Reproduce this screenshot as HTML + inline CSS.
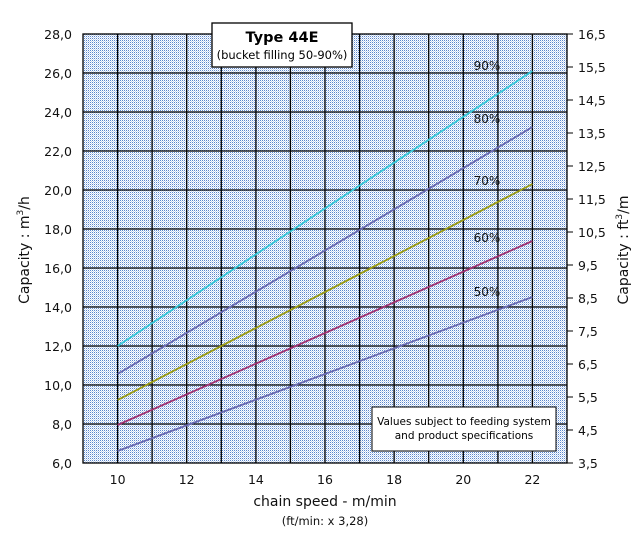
<!DOCTYPE html>
<html><head><meta charset="utf-8"><style>
body{margin:0;background:#fff;}
svg{display:block;font-family:"DejaVu Sans","Liberation Sans",sans-serif;}
</style></head><body>
<svg width="637" height="540" viewBox="0 0 637 540" xmlns="http://www.w3.org/2000/svg">
<defs>
<pattern id="p" width="2" height="2" patternUnits="userSpaceOnUse">
<rect width="2" height="2" fill="#fff"/>
<rect width="1" height="1" fill="#5a86cc"/>
<rect x="1" y="1" width="1" height="1" fill="#c4d6f0"/>
</pattern>
</defs>
<rect x="83" y="34" width="484" height="429" fill="url(#p)"/>
<g stroke="#000" stroke-width="1.3">
<line x1="117.6" y1="34" x2="117.6" y2="463"/><line x1="152.1" y1="34" x2="152.1" y2="463"/>
<line x1="186.7" y1="34" x2="186.7" y2="463"/><line x1="221.3" y1="34" x2="221.3" y2="463"/>
<line x1="255.9" y1="34" x2="255.9" y2="463"/><line x1="290.4" y1="34" x2="290.4" y2="463"/>
<line x1="325" y1="34" x2="325" y2="463"/><line x1="359.6" y1="34" x2="359.6" y2="463"/>
<line x1="394.1" y1="34" x2="394.1" y2="463"/><line x1="428.7" y1="34" x2="428.7" y2="463"/>
<line x1="463.3" y1="34" x2="463.3" y2="463"/><line x1="497.9" y1="34" x2="497.9" y2="463"/>
<line x1="532.4" y1="34" x2="532.4" y2="463"/>
<line x1="83" y1="73" x2="567" y2="73"/><line x1="83" y1="112" x2="567" y2="112"/>
<line x1="83" y1="151" x2="567" y2="151"/><line x1="83" y1="190" x2="567" y2="190"/>
<line x1="83" y1="229" x2="567" y2="229"/><line x1="83" y1="268" x2="567" y2="268"/>
<line x1="83" y1="307" x2="567" y2="307"/><line x1="83" y1="346" x2="567" y2="346"/>
<line x1="83" y1="385" x2="567" y2="385"/><line x1="83" y1="424" x2="567" y2="424"/>
</g>
<g stroke="#000" stroke-width="1">
<line x1="567" y1="34" x2="573" y2="34"/><line x1="567" y1="67" x2="573" y2="67"/><line x1="567" y1="100" x2="573" y2="100"/><line x1="567" y1="133" x2="573" y2="133"/><line x1="567" y1="166" x2="573" y2="166"/><line x1="567" y1="199" x2="573" y2="199"/><line x1="567" y1="232" x2="573" y2="232"/><line x1="567" y1="265" x2="573" y2="265"/><line x1="567" y1="298" x2="573" y2="298"/><line x1="567" y1="331" x2="573" y2="331"/><line x1="567" y1="364" x2="573" y2="364"/><line x1="567" y1="397" x2="573" y2="397"/><line x1="567" y1="430" x2="573" y2="430"/><line x1="567" y1="463" x2="573" y2="463"/>
</g>
<rect x="83" y="34" width="484" height="429" fill="none" stroke="#000" stroke-width="1.3"/>
<g fill="none" stroke-width="1.8">
<polyline points="117.6,346 532.4,71" stroke="#33c8d8"/>
<polyline points="117.6,374 532.4,127" stroke="#6868b0"/>
<polyline points="117.6,400 532.4,184" stroke="#9a9a10"/>
<polyline points="117.6,425 532.4,241" stroke="#a03070"/>
<polyline points="117.6,451 532.4,297" stroke="#6868b0"/>
</g>
<g font-size="12" fill="#111" text-anchor="middle">
<text x="487" y="70">90%</text><text x="487" y="123">80%</text><text x="487" y="185">70%</text><text x="487" y="242">60%</text><text x="487" y="296">50%</text>
</g>
<g font-size="12.5" fill="#111" text-anchor="end">
<text x="72" y="39">28,0</text><text x="72" y="78">26,0</text><text x="72" y="117">24,0</text><text x="72" y="156">22,0</text><text x="72" y="195">20,0</text><text x="72" y="234">18,0</text><text x="72" y="273">16,0</text><text x="72" y="312">14,0</text><text x="72" y="351">12,0</text><text x="72" y="390">10,0</text><text x="72" y="429">8,0</text><text x="72" y="468">6,0</text>
</g>
<g font-size="12.5" fill="#111" text-anchor="start">
<text x="578" y="39">16,5</text><text x="578" y="72">15,5</text><text x="578" y="105">14,5</text><text x="578" y="138">13,5</text><text x="578" y="171">12,5</text><text x="578" y="204">11,5</text><text x="578" y="237">10,5</text><text x="578" y="270">9,5</text><text x="578" y="303">8,5</text><text x="578" y="336">7,5</text><text x="578" y="369">6,5</text><text x="578" y="402">5,5</text><text x="578" y="435">4,5</text><text x="578" y="468">3,5</text>
</g>
<g font-size="12.5" fill="#111" text-anchor="middle">
<text x="117.6" y="484">10</text><text x="186.7" y="484">12</text><text x="255.9" y="484">14</text><text x="325" y="484">16</text><text x="394.1" y="484">18</text><text x="463.3" y="484">20</text><text x="532.4" y="484">22</text>
</g>
<text x="325" y="506" font-size="14" text-anchor="middle" fill="#111">chain speed - m/min</text>
<text x="325" y="525" font-size="11.5" text-anchor="middle" fill="#111">(ft/min: x 3,28)</text>
<text transform="translate(29,250) rotate(-90)" font-size="14" text-anchor="middle" fill="#111">Capacity : m<tspan font-size="9" dy="-6">3</tspan><tspan dy="6">/h</tspan></text>
<text transform="translate(628,250) rotate(-90)" font-size="14" text-anchor="middle" fill="#111">Capacity :  ft<tspan font-size="9" dy="-6">3</tspan><tspan dy="6">/m</tspan></text>
<rect x="212" y="23" width="140" height="44" fill="#fff" stroke="#000" stroke-width="1.3"/>
<text x="282" y="42" font-size="14.5" font-weight="bold" text-anchor="middle" fill="#000">Type 44E</text>
<text x="282" y="59" font-size="11.5" text-anchor="middle" fill="#000">(bucket filling 50-90%)</text>
<rect x="372" y="407" width="184" height="44" fill="#fff" stroke="#000" stroke-width="1"/>
<text x="464" y="425" font-size="10.5" text-anchor="middle" fill="#000">Values subject to feeding system</text>
<text x="464" y="439" font-size="10.5" text-anchor="middle" fill="#000">and product specifications</text>
</svg>
</body></html>
